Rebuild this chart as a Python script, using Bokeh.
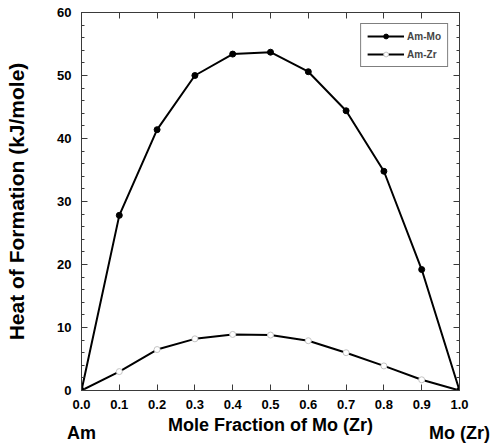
from bokeh.plotting import figure
from bokeh.models import (LinearAxis, SingleIntervalTicker, FixedTicker, NumeralTickFormatter,
                          CustomJSTickFormatter, Range1d, Legend, LegendItem)
from bokeh.embed import file_html
from bokeh.resources import INLINE

# ---- data ----
mole_fraction = [0.0, 0.1, 0.2, 0.3, 0.4, 0.5, 0.6, 0.7, 0.8, 0.9, 1.0]
am_mo = [0.0, 27.8, 41.4, 50.0, 53.4, 53.7, 50.6, 44.4, 34.8, 19.2, 0.0]
am_zr = [0.0, 3.0, 6.5, 8.2, 8.9, 8.8, 7.9, 6.0, 3.9, 1.7, 0.0]
series_names = ["Am-Mo", "Am-Zr"]
x_title = "Mole Fraction of Mo (Zr)"
y_title = "Heat of Formation (kJ/mole)"
end_labels = ["Am", "Mo (Zr)"]
end_positions = [0.0, 1.0]

FONT = "Liberation Sans"
AX = "#3a3a3a"

p = figure(width=493, height=446, output_backend="svg", toolbar_location=None,
           x_range=Range1d(0, 1), y_range=Range1d(0, 60),
           min_border_left=81, min_border_right=34, min_border_top=12,
           min_border_bottom=56, x_axis_type=None, y_axis_type=None)
p.grid.visible = False
p.outline_line_color = AX
p.background_fill_color = "white"
p.border_fill_color = "white"

xt = SingleIntervalTicker(interval=0.1, num_minor_ticks=0)
yt = SingleIntervalTicker(interval=10, num_minor_ticks=5)


def style(ax, labels=True):
    ax.axis_line_color = AX
    ax.axis_line_width = 1
    ax.major_tick_line_color = AX
    ax.minor_tick_line_color = AX
    ax.major_tick_in = 6
    ax.major_tick_out = 0
    ax.minor_tick_in = 3
    ax.minor_tick_out = 0
    ax.major_label_text_font = FONT
    ax.major_label_text_font_style = "bold"
    ax.major_label_text_color = "black"
    ax.major_label_text_font_size = "13px"
    ax.axis_label_text_font = FONT
    ax.axis_label_text_font_style = "bold"
    ax.axis_label_text_color = "black"
    if not labels:
        ax.formatter = CustomJSTickFormatter(code="return ''")
        ax.major_label_standoff = 0


# main bottom axis with numeric ticks
xb = LinearAxis(ticker=xt, formatter=NumeralTickFormatter(format="0.0"))
style(xb)
xb.major_label_standoff = 9
p.add_layout(xb, "below")

# second bottom axis: end-member names + axis title
xe = LinearAxis(ticker=FixedTicker(ticks=end_positions),
                formatter=CustomJSTickFormatter(args=dict(names=end_labels),
                                                code="return names[Math.round(tick)]"))
xe.axis_line_color = None
xe.major_tick_line_color = None
xe.minor_tick_line_color = None
xe.major_tick_in = 0
xe.major_tick_out = 0
xe.major_label_standoff = 11
xe.major_label_text_font = FONT
xe.major_label_text_font_style = "bold"
xe.major_label_text_font_size = "18px"
xe.major_label_text_color = "black"
xe.axis_label = x_title
xe.axis_label_text_font = FONT
xe.axis_label_text_font_style = "bold"
xe.axis_label_text_font_size = "18px"
xe.axis_label_text_color = "black"
xe.axis_label_standoff = -31
p.add_layout(xe, "below")

xa = LinearAxis(ticker=xt)
style(xa, labels=False)
p.add_layout(xa, "above")

yl = LinearAxis(ticker=yt)
style(yl)
yl.major_label_standoff = 10
yl.axis_label = y_title
yl.axis_label_text_font_size = "21px"
yl.axis_label_standoff = 26
p.add_layout(yl, "left")

yr = LinearAxis(ticker=yt)
style(yr, labels=False)
p.add_layout(yr, "right")

# ---- series ----
zr_line = p.line(mole_fraction, am_zr, line_color="black", line_width=2)
zr_pts = p.scatter(mole_fraction, am_zr, marker="circle", size=6,
                   fill_color="white", line_color="#c4c4c4", line_width=1)
mo_line = p.line(mole_fraction, am_mo, line_color="black", line_width=2)
mo_pts = p.scatter(mole_fraction, am_mo, marker="circle", size=6,
                   fill_color="black", line_color="black")

legend = Legend(items=[LegendItem(label=series_names[0], renderers=[mo_line, mo_pts]),
                       LegendItem(label=series_names[1], renderers=[zr_line, zr_pts])],
                location="top_right")
legend.border_line_color = "black"
legend.border_line_width = 1
legend.background_fill_color = "white"
legend.background_fill_alpha = 1
legend.label_text_font = FONT
legend.label_text_font_style = "bold"
legend.label_text_font_size = "10px"
legend.glyph_width = 37
legend.glyph_height = 12
legend.label_standoff = 3
legend.padding = 6
legend.spacing = 6
legend.margin = 11
p.add_layout(legend)

open("out.html", "w").write(file_html(p, INLINE))
